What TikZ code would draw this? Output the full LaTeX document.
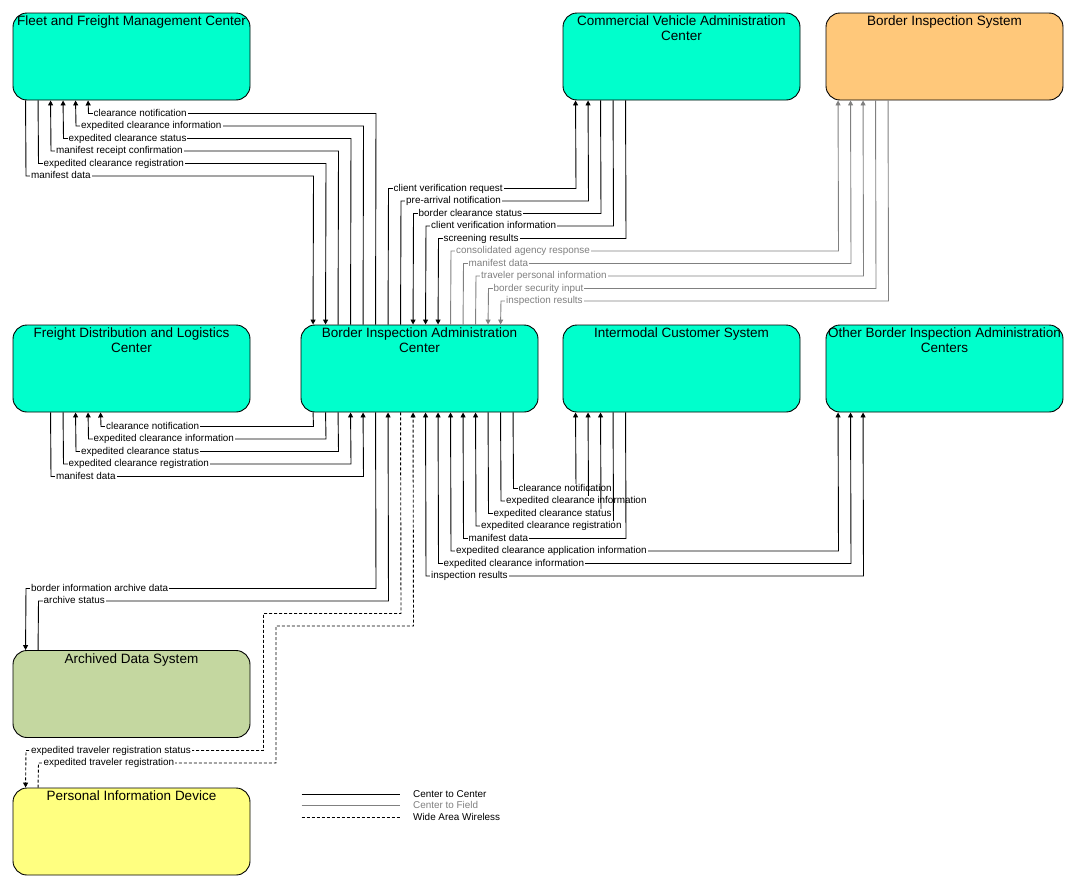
\documentclass[tikz,border=0pt]{standalone}
\usepackage{fontspec}
\setmainfont{Liberation Sans}
\usetikzlibrary{arrows.meta}
\definecolor{sysgreen}{RGB}{0,255,204}
\definecolor{sysorange}{RGB}{255,200,122}
\definecolor{sysolive}{RGB}{196,215,160}
\definecolor{sysyellow}{RGB}{255,255,128}
\definecolor{flowgray}{RGB}{128,128,128}
\newcommand\lblfont{\fontsize{9.9}{11}\selectfont}
\newcommand\ttlfont{\fontsize{13.5}{15}\selectfont}
\begin{document}
\begin{tikzpicture}[x=1pt,y=-1pt,
  >={Triangle[length=5pt,width=5pt]},
  sysbox/.style={draw=black, line width=0.9pt, rounded corners=14pt, minimum width=237pt, minimum height=87pt, inner sep=0pt},
  ttl/.style={anchor=north, yshift=-3.2pt, font=\ttlfont, align=center, inner sep=0pt},
  cc/.style={draw=black, line width=0.9pt},
  cf/.style={draw=flowgray, line width=0.9pt},
  ww/.style={draw=black, line width=0.9pt, dash pattern=on 3pt off 2pt},
  lbl/.style={font=\lblfont, fill=white, inner xsep=1pt, inner ysep=0.6pt, anchor=base west, text=black},
  glbl/.style={lbl, text=flowgray},
  leg/.style={font=\lblfont, inner sep=0pt, anchor=base west}
]
\useasboundingbox (0,0) rectangle (1074,889);
\fill[white] (0,0) rectangle (1074,889);

% systems
\node[sysbox, fill=sysgreen, label={[ttl]north:Fleet and Freight Management Center}] (F) at (131.5,56.5) {};
\node[sysbox, fill=sysgreen, label={[ttl]north:Commercial Vehicle Administration\\Center}] (CVAC) at (681.5,56.5) {};
\node[sysbox, fill=sysorange, label={[ttl]north:Border Inspection System}] (BIS) at (944.5,56.5) {};
\node[sysbox, fill=sysgreen, label={[ttl]north:Freight Distribution and Logistics\\Center}] (FDLC) at (131.5,368.5) {};
\node[sysbox, fill=sysgreen, label={[ttl]north:Border Inspection Administration\\Center}] (BIAC) at (419.5,368.5) {};
\node[sysbox, fill=sysgreen, label={[ttl]north:Intermodal Customer System}] (ICS) at (681.5,368.5) {};
\node[sysbox, fill=sysgreen, label={[ttl]north:Other Border Inspection Administration\\Centers}] (OBIAC) at (944.5,368.5) {};
\node[sysbox, fill=sysolive, label={[ttl]north:Archived Data System}] (ADS) at (131.5,694) {};
\node[sysbox, fill=sysyellow, label={[ttl]north:Personal Information Device}] (PID) at (131.5,831.5) {};

% Fleet and Freight Management Center
\draw[cc,<-] ([xshift=75.5pt]F.south west) -- (88.5,113.5) -- (376,113.5) -- ([xshift=75pt]BIAC.north west);
\node[lbl] (fl1) at (92.5,116.3) {clearance notification};
\draw[cc,<-] ([xshift=63pt]F.south west) -- (76,126) -- (363.5,126) -- ([xshift=62.5pt]BIAC.north west);
\node[lbl] (fl2) at (80,128.8) {expedited clearance information};
\draw[cc,<-] ([xshift=50.5pt]F.south west) -- (63.5,138.5) -- (351,138.5) -- ([xshift=50pt]BIAC.north west);
\node[lbl] (fl3) at (67.5,141.3) {expedited clearance status};
\draw[cc,<-] ([xshift=38pt]F.south west) -- (51,151) -- (338.5,151) -- ([xshift=37.5pt]BIAC.north west);
\node[lbl] (fl4) at (55,153.8) {manifest receipt confirmation};
\draw[cc,->] ([xshift=25.5pt]F.south west) -- (38.5,163.5) -- (326,163.5) -- ([xshift=25pt]BIAC.north west);
\node[lbl] (fl5) at (42.5,166.3) {expedited clearance registration};
\draw[cc,->] ([xshift=13pt]F.south west) -- (26,176) -- (313.5,176) -- ([xshift=12.5pt]BIAC.north west);
\node[lbl] (fl6) at (30,178.8) {manifest data};

% Commercial Vehicle Administration Center
\draw[cc,->] ([xshift=87.5pt]BIAC.north west) -- (388.5,188.5) -- (576,188.5) -- ([xshift=13pt]CVAC.south west);
\node[lbl] (cv1) at (392.5,191.3) {client verification request};
\draw[cc,->] ([xshift=100pt]BIAC.north west) -- (401,201) -- (588.5,201) -- ([xshift=25.5pt]CVAC.south west);
\node[lbl] (cv2) at (405,203.8) {pre-arrival notification};
\draw[cc,->] ([xshift=38pt]CVAC.south west) -- (601,213.5) -- (413.5,213.5) -- ([xshift=112.5pt]BIAC.north west);
\node[lbl] (cv3) at (417.5,216.3) {border clearance status};
\draw[cc,->] ([xshift=50.5pt]CVAC.south west) -- (613.5,226) -- (426,226) -- ([xshift=125pt]BIAC.north west);
\node[lbl] (cv4) at (430,228.8) {client verification information};
\draw[cc,->] ([xshift=63pt]CVAC.south west) -- (626,238.5) -- (438.5,238.5) -- ([xshift=137.5pt]BIAC.north west);
\node[lbl] (cv5) at (442.5,241.3) {screening results};

% Border Inspection System
\draw[cf,->] ([xshift=150pt]BIAC.north west) -- (451,251) -- (838.5,251) -- ([xshift=12.5pt]BIS.south west);
\node[glbl] (bi1) at (455,253.8) {consolidated agency response};
\draw[cf,->] ([xshift=162.5pt]BIAC.north west) -- (463.5,263.5) -- (851,263.5) -- ([xshift=25pt]BIS.south west);
\node[glbl] (bi2) at (467.5,266.3) {manifest data};
\draw[cf,->] ([xshift=175pt]BIAC.north west) -- (476,276) -- (863.5,276) -- ([xshift=37.5pt]BIS.south west);
\node[glbl] (bi3) at (480,278.8) {traveler personal information};
\draw[cf,->] ([xshift=50pt]BIS.south west) -- (876,288.5) -- (488.5,288.5) -- ([xshift=187.5pt]BIAC.north west);
\node[glbl] (bi4) at (492.5,291.3) {border security input};
\draw[cf,->] ([xshift=62.5pt]BIS.south west) -- (888.5,301) -- (501,301) -- ([xshift=200pt]BIAC.north west);
\node[glbl] (bi5) at (505,303.8) {inspection results};

% Freight Distribution and Logistics Center
\draw[cc,->] ([xshift=12.5pt]BIAC.south west) -- (313.5,426.5) -- (101,426.5) -- ([xshift=88pt]FDLC.south west);
\node[lbl] (fd1) at (105,429.3) {clearance notification};
\draw[cc,->] ([xshift=25pt]BIAC.south west) -- (326,439) -- (88.5,439) -- ([xshift=75.5pt]FDLC.south west);
\node[lbl] (fd2) at (92.5,441.8) {expedited clearance information};
\draw[cc,->] ([xshift=37.5pt]BIAC.south west) -- (338.5,451.5) -- (76,451.5) -- ([xshift=63pt]FDLC.south west);
\node[lbl] (fd3) at (80,454.3) {expedited clearance status};
\draw[cc,->] ([xshift=50.5pt]FDLC.south west) -- (63.5,464) -- (351,464) -- ([xshift=50pt]BIAC.south west);
\node[lbl] (fd4) at (67.5,466.8) {expedited clearance registration};
\draw[cc,->] ([xshift=38pt]FDLC.south west) -- (51,476.5) -- (363.5,476.5) -- ([xshift=62.5pt]BIAC.south west);
\node[lbl] (fd5) at (55,479.3) {manifest data};

% Intermodal Customer System
\draw[cc,->] ([xshift=212.5pt]BIAC.south west) -- (513.5,488.5) -- (576,488.5) -- ([xshift=13pt]ICS.south west);
\node[lbl] (ic1) at (517.5,491.3) {clearance notification};
\draw[cc,->] ([xshift=200pt]BIAC.south west) -- (501,501) -- (588.5,501) -- ([xshift=25.5pt]ICS.south west);
\node[lbl] (ic2) at (505,503.8) {expedited clearance information};
\draw[cc,->] ([xshift=187.5pt]BIAC.south west) -- (488.5,513.5) -- (601,513.5) -- ([xshift=38pt]ICS.south west);
\node[lbl] (ic3) at (492.5,516.3) {expedited clearance status};
\draw[cc,->] ([xshift=50.5pt]ICS.south west) -- (613.5,526) -- (476,526) -- ([xshift=175pt]BIAC.south west);
\node[lbl] (ic4) at (480,528.8) {expedited clearance registration};
\draw[cc,->] ([xshift=63pt]ICS.south west) -- (626,538.5) -- (463.5,538.5) -- ([xshift=162.5pt]BIAC.south west);
\node[lbl] (ic5) at (467.5,541.3) {manifest data};

% Other Border Inspection Administration Centers
\draw[cc,<->] ([xshift=150pt]BIAC.south west) -- (451,551) -- (838.5,551) -- ([xshift=12.5pt]OBIAC.south west);
\node[lbl] (ob1) at (455,553.8) {expedited clearance application information};
\draw[cc,<->] ([xshift=137.5pt]BIAC.south west) -- (438.5,563.5) -- (851,563.5) -- ([xshift=25pt]OBIAC.south west);
\node[lbl] (ob2) at (442.5,566.3) {expedited clearance information};
\draw[cc,<->] ([xshift=125pt]BIAC.south west) -- (426,576) -- (863.5,576) -- ([xshift=37.5pt]OBIAC.south west);
\node[lbl] (ob3) at (430,578.8) {inspection results};

% Archived Data System
\draw[cc,->] ([xshift=75pt]BIAC.south west) -- (376,588.5) -- (26,588.5) -- ([xshift=13pt]ADS.north west);
\node[lbl] (ad1) at (30,591.3) {border information archive data};
\draw[cc,->] ([xshift=25.5pt]ADS.north west) -- (38.5,601) -- (388.5,601) -- ([xshift=87.5pt]BIAC.south west);
\node[lbl] (ad2) at (42.5,603.8) {archive status};

% Personal Information Device
\draw[ww,->] ([xshift=100pt]BIAC.south west) -- (401,613.5) -- (263.5,613.5) -- (263.5,750.5) -- (26,750.5) -- ([xshift=13pt]PID.north west);
\node[lbl] (pd1) at (30,753.3) {expedited traveler registration status};
\draw[ww,->] ([xshift=25.5pt]PID.north west) -- (38.5,763) -- (276,763) -- (276,626) -- (413.5,626) -- ([xshift=112.5pt]BIAC.south west);
\node[lbl] (pd2) at (42.5,765.8) {expedited traveler registration};

% legend
\coordinate (lga1) at (301.5,794);  \coordinate (lgb1) at (400,794);
\coordinate (lga2) at (301.5,805.5);\coordinate (lgb2) at (400,805.5);
\coordinate (lga3) at (301.5,817);  \coordinate (lgb3) at (400,817);
\draw[cc] (lga1) -- (lgb1);
\draw[cf] (lga2) -- (lgb2);
\draw[ww] (lga3) -- (lgb3);
\node[leg] (lgt1) at (413,797.2) {Center to Center};
\node[leg, text=flowgray] (lgt2) at (413,808.7) {Center to Field};
\node[leg] (lgt3) at (413,820.2) {Wide Area Wireless};
\end{tikzpicture}
\end{document}
